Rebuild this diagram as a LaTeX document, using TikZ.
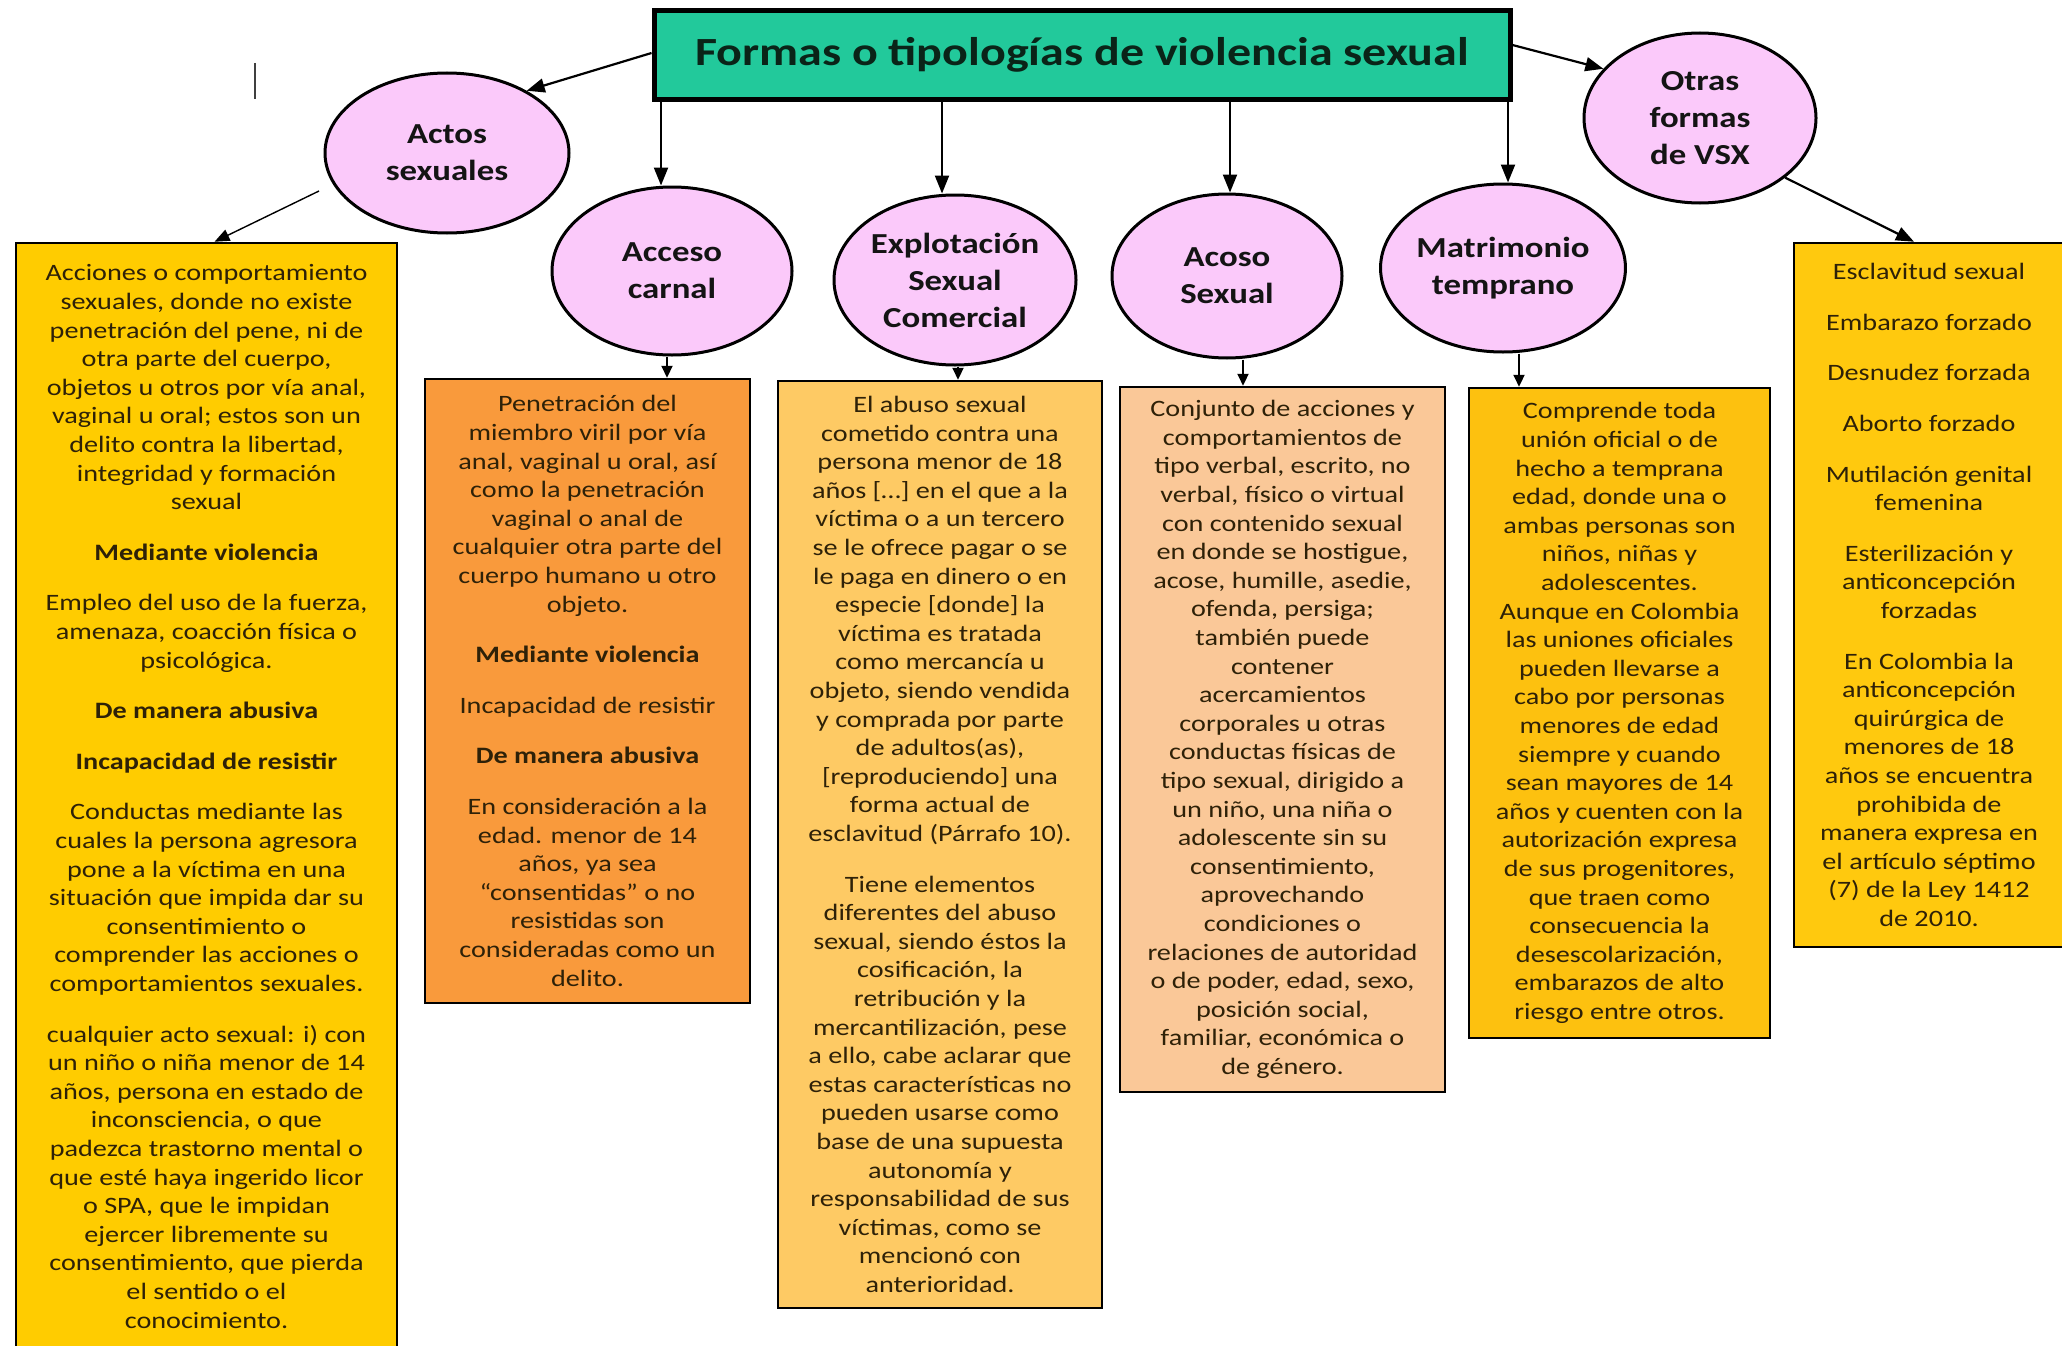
\documentclass[tikz,border=0pt]{standalone}
\usepackage{fontspec}
\setmainfont{Carlito}[FakeStretch=1.2]
\usepackage{tikz}
\usetikzlibrary{arrows.meta,positioning,shapes.geometric,calc}
\usepackage{xcolor}
\definecolor{ink}{HTML}{141414}
\definecolor{titleInk}{HTML}{0A2418}
\definecolor{bodyInk}{HTML}{2E2108}
\definecolor{titleFill}{HTML}{22C99B}
\definecolor{kindFill}{HTML}{FBC9FA}
\definecolor{actosFill}{HTML}{FFCC00}
\definecolor{accesoFill}{HTML}{F99A3C}
\definecolor{explotFill}{HTML}{FECA64}
\definecolor{acosoFill}{HTML}{FAC898}
\definecolor{matrimFill}{HTML}{FDC10F}
\definecolor{otrasFill}{HTML}{FFC90E}
\tikzset{
  base/.style={text=ink},
  title/.style={base, text=titleInk, font=\bfseries\fontsize{40}{48}\selectfont, draw=black, line width=5pt, fill=titleFill, minimum width=856pt, minimum height=88pt, inner sep=0pt},
  kind/.style={base, ellipse, draw=black, line width=3pt, fill=kindFill, font=\bfseries\fontsize{29}{37}\selectfont, align=center, inner sep=0pt},
  card/.style={base, text=bodyInk, rectangle, draw=black, line width=2.5pt, font=\fontsize{23.5}{28.6}\selectfont, align=center, inner sep=0pt},
  arrow/.style={-{Triangle[length=18pt,width=14pt]}, line width=2.2pt, draw=black},
  shortarrow/.style={-{Triangle[length=12pt,width=11pt]}, line width=2.2pt, draw=black},
  thinarrow/.style={-{Triangle[length=15pt,width=12pt]}, line width=1.4pt, draw=black},
}

\begin{document}
\begin{tikzpicture}[x=1pt,y=-1pt]
  \useasboundingbox (0,0) rectangle (2062,1346);
  \fill[white] (0,0) rectangle (2062,1346);

  \node[title] (title) at (1082,55) {Formas o tipologías de violencia sexual};

  \node[kind,minimum width=244pt,minimum height=160pt] (actos) at (447,153) {Actos\\sexuales};
  \node[kind,minimum width=240pt,minimum height=168pt] (acceso) at (672,271) {Acceso\\carnal};
  \node[kind,minimum width=242pt,minimum height=170pt] (explot) at (955,280) {Explotación\\Sexual\\Comercial};
  \node[kind,minimum width=230pt,minimum height=164pt] (acoso) at (1227,276) {Acoso\\Sexual};
  \node[kind,minimum width=230pt,minimum height=168pt] (matrim) at (1503,268) {Matrimonio\\temprano};
  \node[kind,minimum width=232pt,minimum height=170pt] (otras) at (1700,118) {Otras\\formas\\de VSX};

  \node[card,fill=actosFill,minimum width=381pt,minimum height=1107pt] (actosText) at (206.5,796.5) {Acciones o comportamiento\\sexuales, donde no existe\\penetración del pene, ni de\\otra parte del cuerpo,\\objetos u otros por vía anal,\\vaginal u oral; estos son un\\delito contra la libertad,\\integridad y formación\\sexual\\[22pt]
    \textbf{Mediante violencia}\\[22pt]
    Empleo del uso de la fuerza,\\amenaza, coacción física o\\psicológica.\\[22pt]
    \textbf{De manera abusiva}\\[22pt]
    \textbf{Incapacidad de resistir}\\[22pt]
    Conductas mediante las\\cuales la persona agresora\\pone a la víctima en una\\situación que impida dar su\\consentimiento o\\comprender las acciones o\\comportamientos sexuales.\\[22pt]
    cualquier acto sexual: i) con\\un niño o niña menor de 14\\años, persona en estado de\\inconsciencia, o que\\padezca trastorno mental o\\que esté haya ingerido licor\\o SPA, que le impidan\\ejercer libremente su\\consentimiento, que pierda\\el sentido o el\\conocimiento.};

  \node[card,fill=accesoFill,minimum width=325pt,minimum height=624pt] (accesoText) at (587.5,691) {Penetración del\\miembro viril por vía\\anal, vaginal u oral, así\\como la penetración\\vaginal o anal de\\cualquier otra parte del\\cuerpo humano u otro\\objeto.\\[22pt]
    \textbf{Mediante violencia}\\[22pt]
    Incapacidad de resistir\\[22pt]
    \textbf{De manera abusiva}\\[22pt]
    En consideración a la\\edad. menor de 14\\años, ya sea\\“consentidas” o no\\resistidas son\\consideradas como un\\delito.};

  \node[card,fill=explotFill,minimum width=324pt,minimum height=927pt] (explotText) at (940,844.5) {El abuso sexual\\cometido contra una\\persona menor de 18\\años […] en el que a la\\víctima o a un tercero\\se le ofrece pagar o se\\le paga en dinero o en\\especie [donde] la\\víctima es tratada\\como mercancía u\\objeto, siendo vendida\\y comprada por parte\\de adultos(as),\\{[}reproduciendo{]} una\\forma actual de\\esclavitud (Párrafo 10).\\[22pt]
    Tiene elementos\\diferentes del abuso\\sexual, siendo éstos la\\cosificación, la\\retribución y la\\mercantilización, pese\\a ello, cabe aclarar que\\estas características no\\pueden usarse como\\base de una supuesta\\autonomía y\\responsabilidad de sus\\víctimas, como se\\mencionó con\\anterioridad.};

  \node[card,fill=acosoFill,minimum width=325pt,minimum height=705pt] (acosoText) at (1282.5,739.5) {Conjunto de acciones y\\comportamientos de\\tipo verbal, escrito, no\\verbal, físico o virtual\\con contenido sexual\\en donde se hostigue,\\acose, humille, asedie,\\ofenda, persiga;\\también puede\\contener\\acercamientos\\corporales u otras\\conductas físicas de\\tipo sexual, dirigido a\\un niño, una niña o\\adolescente sin su\\consentimiento,\\aprovechando\\condiciones o\\relaciones de autoridad\\o de poder, edad, sexo,\\posición social,\\familiar, económica o\\de género.};

  \node[card,fill=matrimFill,minimum width=301pt,minimum height=650pt] (matrimText) at (1619.5,713) {Comprende toda\\unión oficial o de\\hecho a temprana\\edad, donde una o\\ambas personas son\\niños, niñas y\\adolescentes.\\Aunque en Colombia\\las uniones oficiales\\pueden llevarse a\\cabo por personas\\menores de edad\\siempre y cuando\\sean mayores de 14\\años y cuenten con la\\autorización expresa\\de sus progenitores,\\que traen como\\consecuencia la\\desescolarización,\\embarazos de alto\\riesgo entre otros.};

  \node[card,fill=otrasFill,minimum width=270pt,minimum height=704pt] (otrasText) at (1929,595) {Esclavitud sexual\\[22pt]
    Embarazo forzado\\[22pt]
    Desnudez forzada\\[22pt]
    Aborto forzado\\[22pt]
    Mutilación genital\\femenina\\[22pt]
    Esterilización y\\anticoncepción\\forzadas\\[22pt]
    En Colombia la\\anticoncepción\\quirúrgica de\\menores de 18\\años se encuentra\\prohibida de\\manera expresa en\\el artículo séptimo\\(7) de la Ley 1412\\de 2010.};

  \coordinate (actosTail) at ($(actos.center)+(-128,38)$);

  \draw[arrow] ([yshift=2pt]title.west) -- (actos.38);
  \draw[arrow] ([xshift=-11pt]title.south -| acceso.north) -- ([xshift=-11pt]acceso.north);
  \draw[arrow] ([xshift=-13pt]title.south -| explot.north) -- ([xshift=-13pt]explot.north);
  \draw[arrow] ([xshift=3pt]title.south -| acoso.north) -- ([xshift=3pt]acoso.north);
  \draw[arrow] ([xshift=5pt]title.south -| matrim.north) -- ([xshift=5pt]matrim.north);
  \draw[arrow] ([yshift=10pt]title.east) -- (otras.153);

  \draw[thinarrow] (actosTail) -- ([xshift=8pt]actosText.north);
  \draw[shortarrow] ([xshift=-5pt]acceso.south) -- ([xshift=-5pt]acceso.south |- accesoText.north);
  \draw[shortarrow] ([xshift=3pt]explot.south) -- ([xshift=3pt]explot.south |- explotText.north);
  \draw[shortarrow] ([xshift=16pt]acoso.south) -- ([xshift=16pt]acoso.south |- acosoText.north);
  \draw[shortarrow] ([xshift=16pt]matrim.south) -- ([xshift=16pt]matrim.south |- matrimText.north);
  \draw[arrow] (otras.-35) -- ([xshift=-15pt]otrasText.north);

  \draw[line width=2pt,black!75] (255,63) -- (255,99);
\end{tikzpicture}
\end{document}
